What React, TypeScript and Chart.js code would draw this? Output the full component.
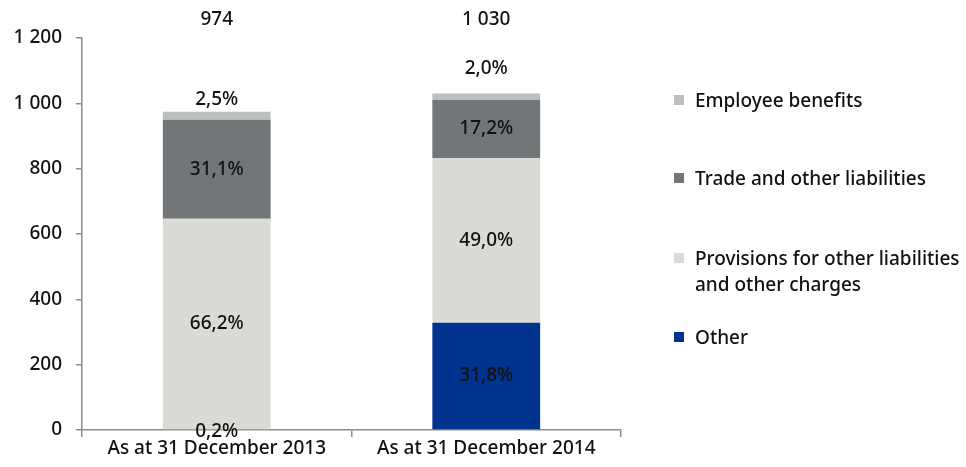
import React, { useEffect, useRef } from "react";
import { Chart, registerables } from "chart.js";

Chart.register(...registerables);

const categories = ["As at 31 December 2013", "As at 31 December 2014"];
const otherValues = [2, 328];
const provisionsValues = [645, 505];
const tradeValues = [303, 177];
const employeeValues = [24, 20];
const otherLabels = ["0,2%", "31,8%"];
const provisionsLabels = ["66,2%", "49,0%"];
const tradeLabels = ["31,1%", "17,2%"];
const employeeLabels = ["2,5%", "2,0%"];
const totalLabels = ["974", "1 030"];
const yTicks = [0, 200, 400, 600, 800, 1000, 1200];

const FONT = "'Noto Sans', sans-serif";
const SIZE = 19;
const WEIGHT = 500;

const legendItems = [
  { lines: ["Employee benefits"], color: "#bdbebe", top: 87 },
  { lines: ["Trade and other liabilities"], color: "#737678", top: 165 },
  { lines: ["Provisions for other liabilities", "and other charges"], color: "#dadbd6", top: 245 },
  { lines: ["Other"], color: "#00338d", top: 324 },
];

const fmt = (v: number) => String(v).replace(/\B(?=(\d{3})+(?!\d))/g, " ");

export default function App() {
  const ref = useRef<HTMLCanvasElement>(null);

  useEffect(() => {
    if (!ref.current) return;
    const labelsByDataset = [otherLabels, provisionsLabels, tradeLabels, employeeLabels];
    const aboveOffsets = [12, 25];

    const labelPlugin = {
      id: "segLabels",
      afterDatasetsDraw(chart: any) {
        const ctx = chart.ctx;
        ctx.save();
        ctx.font = `${WEIGHT} ${SIZE}px ${FONT}`;
        ctx.fillStyle = "#111";
        ctx.textAlign = "center";
        ctx.textBaseline = "middle";
        chart.data.datasets.forEach((ds: any, di: number) => {
          const meta = chart.getDatasetMeta(di);
          meta.data.forEach((el: any, j: number) => {
            const txt = labelsByDataset[di][j];
            const h = Math.abs(el.base - el.y);
            let y: number;
            if (di === 3) y = el.y - aboveOffsets[j];
            else if (h < 14) y = el.base + 2;
            else y = (el.y + el.base) / 2;
            ctx.fillText(txt, el.x, y);
          });
        });
        const meta0 = chart.getDatasetMeta(0);
        meta0.data.forEach((el: any, j: number) => {
          ctx.fillText(totalLabels[j], el.x, chart.chartArea.top - 18);
        });
        ctx.restore();
      },
    };

    const chart = new Chart(ref.current, {
      type: "bar",
      data: {
        labels: categories,
        datasets: [
          { label: "Other", data: otherValues, backgroundColor: "#00338d" },
          { label: "Provisions for other liabilities and other charges", data: provisionsValues, backgroundColor: "#dadbd6" },
          { label: "Trade and other liabilities", data: tradeValues, backgroundColor: "#737678" },
          { label: "Employee benefits", data: employeeValues, backgroundColor: "#bdbebe" },
        ],
      },
      options: {
        animation: false,
        responsive: false,
        maintainAspectRatio: false,
        layout: { padding: { left: 0, right: 345, top: 38, bottom: 0 } },
        datasets: { bar: { barPercentage: 0.4, categoryPercentage: 1 } },
        plugins: { legend: { display: false }, tooltip: { enabled: false } },
        scales: {
          x: {
            stacked: true,
            offset: true,
            grid: { display: true, offset: true, drawOnChartArea: false, drawTicks: true, tickLength: 7, color: "#8c8c8c", lineWidth: 1.5 },
            border: { display: true, color: "#8c8c8c", width: 1.5 },
            ticks: { color: "#111", font: { family: FONT, size: SIZE, weight: WEIGHT }, padding: 0 },
            afterFit: (s: any) => { s.height = 37; },
          },
          y: {
            stacked: true,
            min: 0,
            max: 1200,
            afterBuildTicks: (s: any) => { s.ticks = yTicks.map((v) => ({ value: v })); },
            grid: { display: true, drawOnChartArea: false, drawTicks: true, tickLength: 6, color: "#8c8c8c", lineWidth: 1.5 },
            border: { display: true, color: "#8c8c8c", width: 1.5 },
            ticks: { color: "#111", font: { family: FONT, size: SIZE, weight: WEIGHT }, padding: 14, callback: (v: any) => fmt(Number(v)) },
            afterFit: (s: any) => { s.width = 82; },
          },
        },
      },
      plugins: [labelPlugin],
    });
    return () => chart.destroy();
  }, []);

  return (
    <div style={{ position: "fixed", left: 0, top: 0, width: 966, height: 467, background: "#fff" }}>
      <canvas ref={ref} width={966} height={467} style={{ position: "absolute", left: 0, top: 0 }} />
      {legendItems.map((it, i) => (
        <div key={i} style={{ position: "absolute", left: 674, top: it.top, fontFamily: FONT, fontSize: SIZE, fontWeight: WEIGHT, lineHeight: "26px", color: "#111" }}>
          <span style={{ position: "absolute", left: 0, top: 8, width: 10, height: 10, background: it.color }} />
          <div style={{ marginLeft: 21, whiteSpace: "nowrap" }}>
            {it.lines.map((l, k) => (<div key={k}>{l}</div>))}
          </div>
        </div>
      ))}
    </div>
  );
}
